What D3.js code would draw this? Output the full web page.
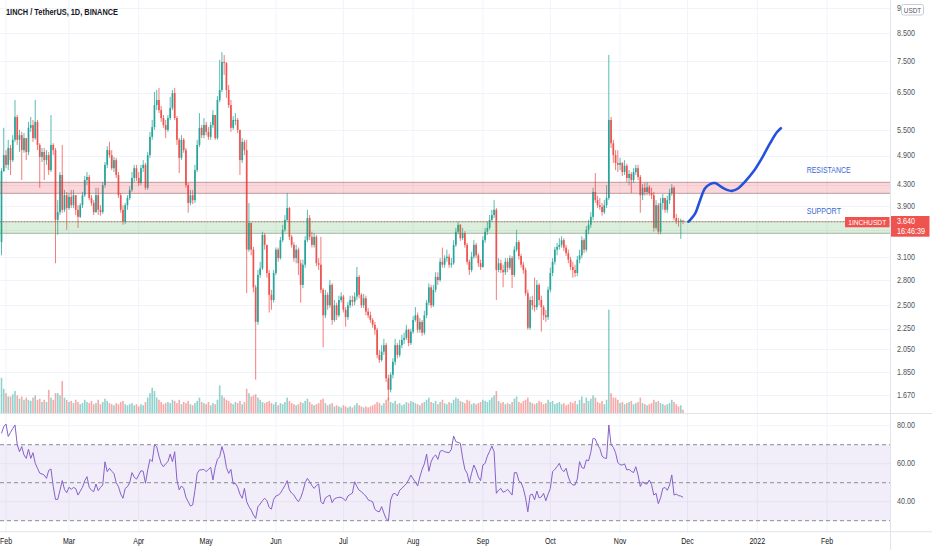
<!DOCTYPE html>
<html><head><meta charset="utf-8">
<script src="https://cdn.jsdelivr.net/npm/d3@7/dist/d3.min.js"></script>
<style>
body{margin:0;background:#fff;}
svg{display:block;font-family:"Liberation Sans",Arial,sans-serif;}
</style>
</head><body>
<svg id="c" width="932" height="550"></svg>
<script>
// ---------- DATA ----------
const title = "1INCH / TetherUS, 1D, BINANCE";
const startDate = "2021-01-30";
const firstOpen = 3.32;
// daily closes (open of each day = previous close)
const closes = [
4.57,4.91,4.70,5.07,4.80,5.26,5.83,5.26,5.37,5.02,
5.30,4.98,5.55,5.62,5.30,5.70,5.14,4.87,4.98,4.80,
4.91,4.59,5.14,5.02,3.67,3.80,4.49,3.84,4.10,3.87,
4.07,3.92,4.10,3.84,3.72,3.92,4.10,4.39,4.45,4.05,
3.96,3.80,4.10,3.84,3.80,4.29,4.70,5.02,4.91,4.63,
4.80,4.49,4.10,3.84,3.64,3.92,4.05,4.20,4.43,4.63,
4.43,4.33,4.63,4.70,4.24,4.91,5.33,5.57,6.15,6.29,
6.01,5.80,5.62,5.50,5.80,6.07,6.49,5.80,5.26,4.85,
5.26,5.02,4.29,3.96,4.10,4.01,4.59,5.14,5.55,5.37,
5.62,5.45,5.33,5.62,5.88,5.30,6.29,6.58,7.46,7.43,
6.58,6.15,5.55,5.75,5.75,5.50,4.80,5.21,5.02,3.21,
3.62,3.21,2.71,2.32,2.865,2.95,3.43,3.28,2.89,2.62,
2.56,2.89,3.21,3.09,3.35,3.51,3.67,3.87,3.40,3.28,
3.09,3.21,3.02,2.74,3.00,3.35,3.70,3.40,3.28,3.40,
3.02,3.00,2.68,2.39,2.62,2.50,2.74,2.34,2.50,2.39,
2.56,2.60,2.45,2.37,2.50,2.56,2.54,2.60,2.84,2.62,
2.50,2.58,2.43,2.39,2.34,2.29,2.24,2.00,1.955,2.03,
2.09,1.80,1.71,1.83,1.94,2.09,2.00,2.09,2.14,2.16,
2.24,2.11,2.22,2.34,2.39,2.24,2.32,2.21,2.39,2.53,
2.71,2.50,2.68,2.84,2.80,3.04,3.00,3.09,3.11,3.00,
3.02,3.28,3.48,3.59,3.38,3.46,3.28,3.04,2.93,3.11,
3.28,3.13,3.02,2.97,3.35,3.48,3.54,3.67,3.75,3.84,
2.93,3.02,2.93,2.90,3.04,2.96,3.09,2.865,3.21,3.32,
3.12,3.00,2.93,2.64,2.26,2.56,2.50,2.48,2.74,2.56,
2.48,2.39,2.37,2.68,2.89,3.04,3.21,3.25,3.28,3.35,
3.24,3.16,3.07,2.97,2.93,2.89,3.07,3.13,3.35,3.21,
3.51,3.59,3.72,4.16,4.01,3.92,3.89,3.80,3.92,4.05,
5.75,5.18,4.91,4.74,4.70,4.74,4.55,4.68,4.43,4.51,
4.39,4.55,4.63,4.45,4.10,4.24,4.16,4.25,4.14,4.10,
3.54,3.92,3.48,3.96,4.05,3.84,4.01,4.14,4.24,3.70,
3.65,3.64,3.66,3.64];
const highs = [
4.63,5.55,5.02,5.26,5.14,5.37,6.29,5.88,5.50,5.45,
5.42,5.30,5.70,5.83,5.75,6.29,5.75,5.18,5.07,5.07,
5.02,4.98,5.88,5.18,5.07,4.01,4.55,5.14,4.20,4.16,
4.14,4.20,4.20,4.10,3.92,3.96,4.16,4.47,4.55,4.49,
4.10,4.01,4.24,4.24,3.92,4.35,4.76,5.11,5.21,5.02,
4.87,4.85,4.55,4.14,3.92,3.96,4.10,4.27,4.55,4.70,
4.70,4.55,4.70,4.80,4.74,4.98,5.45,5.75,6.52,6.58,
6.64,6.12,5.88,5.75,5.88,6.38,6.58,6.64,5.85,5.30,
5.37,5.30,5.07,4.33,4.20,4.20,4.70,5.26,5.93,5.62,
5.80,5.70,5.57,5.70,6.01,5.88,6.40,7.53,7.80,7.70,
7.46,6.73,6.29,5.85,5.93,5.80,5.50,5.30,5.26,5.26,
3.96,3.62,3.25,2.74,2.93,3.04,3.48,3.46,3.28,2.93,
2.68,2.93,3.24,3.24,3.40,3.59,3.75,4.14,3.89,3.43,
3.32,3.28,3.24,3.07,3.07,3.41,3.84,3.75,3.48,3.46,
3.43,3.09,3.40,2.70,2.68,2.65,2.80,2.76,2.56,2.53,
2.61,2.65,2.62,2.48,2.54,2.61,2.61,2.65,2.97,2.865,
2.64,2.63,2.61,2.47,2.43,2.36,2.32,2.26,2.045,2.09,
2.15,2.11,1.83,1.85,1.97,2.15,2.11,2.14,2.19,2.21,
2.29,2.25,2.25,2.38,2.48,2.42,2.36,2.34,2.44,2.56,
2.76,2.74,2.74,2.90,2.90,3.09,3.24,3.13,3.21,3.15,
3.09,3.35,3.54,3.64,3.60,3.54,3.49,3.31,3.07,3.18,
3.35,3.31,3.16,3.07,3.41,3.54,3.64,3.75,3.84,4.01,
3.87,3.09,3.07,3.00,3.09,3.09,3.13,3.12,3.26,3.51,
3.35,3.15,3.04,2.96,2.68,2.60,2.61,2.83,2.80,2.76,
2.61,2.50,2.45,2.72,2.96,3.09,3.25,3.31,3.38,3.41,
3.38,3.28,3.21,3.11,3.04,3.00,3.12,3.21,3.41,3.38,
3.57,3.67,3.80,4.24,4.53,4.09,4.05,3.96,4.01,4.29,
7.70,5.83,5.26,5.02,5.02,4.85,4.76,4.80,4.72,4.59,
4.55,4.63,4.70,4.70,4.49,4.31,4.33,4.35,4.29,4.24,
4.16,4.01,3.96,4.05,4.12,4.05,4.09,4.22,4.31,4.27,
3.77,3.70,3.69,3.66];
const lows = [
3.13,4.55,4.63,4.59,4.49,4.76,5.21,5.14,4.98,4.39,
4.96,4.80,4.91,5.45,5.21,5.26,5.02,4.24,4.76,4.39,
4.70,4.49,4.55,4.91,3.02,3.43,3.75,3.79,3.80,3.51,
3.84,3.87,3.87,3.75,3.54,3.70,3.87,4.07,4.29,4.01,
3.91,3.75,3.79,3.75,3.74,3.77,4.24,4.63,4.85,4.59,
4.55,4.43,4.05,3.79,3.59,3.60,3.84,4.01,4.16,4.35,
4.37,4.27,4.29,4.55,4.20,4.20,4.85,5.26,5.50,6.01,
5.93,5.70,5.55,5.30,5.45,5.75,6.01,5.75,5.14,4.53,
4.80,4.96,4.24,3.79,3.92,3.94,3.96,4.55,5.09,5.30,
5.30,5.37,5.26,5.26,5.55,5.26,5.26,6.23,6.52,7.04,
6.35,6.07,5.45,5.50,5.62,5.42,4.49,4.74,4.91,2.64,
3.18,3.13,2.65,1.79,2.29,2.83,2.93,3.21,2.83,2.42,
2.45,2.53,2.865,3.04,3.07,3.32,3.48,3.64,3.35,3.24,
3.04,3.02,2.865,2.53,2.70,2.96,3.32,3.35,3.24,3.24,
2.98,2.93,2.64,2.07,2.36,2.45,2.47,2.29,2.32,2.34,
2.37,2.53,2.42,2.27,2.34,2.47,2.49,2.50,2.56,2.58,
2.47,2.47,2.39,2.36,2.31,2.26,2.19,1.97,1.93,1.94,
2.00,1.77,1.63,1.69,1.80,1.91,1.97,1.98,2.06,2.10,
2.14,2.08,2.09,2.20,2.32,2.21,2.21,2.18,2.19,2.36,
2.50,2.47,2.48,2.65,2.74,2.78,2.96,2.96,3.04,2.96,
2.96,3.00,3.25,3.44,3.34,3.35,3.24,3.00,2.865,2.90,
3.08,3.09,2.97,2.93,2.96,3.31,3.43,3.51,3.64,3.70,
2.56,2.90,2.89,2.71,2.865,2.90,2.93,2.70,2.84,3.18,
3.07,2.96,2.88,2.61,2.24,2.24,2.45,2.43,2.45,2.50,
2.22,2.34,2.32,2.34,2.65,2.85,3.00,3.13,3.21,3.24,
3.19,3.12,3.02,2.93,2.83,2.84,2.85,3.02,3.09,3.16,
3.18,3.44,3.54,3.67,3.96,3.87,3.84,3.74,3.77,3.87,
4.01,5.07,4.74,4.59,4.55,4.59,4.47,4.49,4.35,4.29,
4.14,4.33,4.49,4.39,3.79,4.01,4.09,4.10,4.09,4.03,
3.48,3.51,3.44,3.44,3.84,3.79,3.79,3.94,4.09,3.66,
3.60,3.56,3.37,3.60];
// daily volume, millions
const volumes = [
32,22,18,15,15,17,20,16,13,15,
12,14,12,11,14,16,12,13,10,12,
10,21,14,12,18,18,16,29,14,12,
10,11,9,12,10,8,9,12,10,9,
11,8,9,12,8,10,13,11,9,8,
7,9,8,10,11,8,7,8,9,7,
8,6,8,7,10,14,18,23,20,14,
12,10,8,9,10,9,12,11,9,12,
8,10,9,11,8,7,9,11,14,10,
9,8,10,7,9,8,12,25,16,14,
12,11,9,8,10,9,11,8,10,22,
18,15,16,17,14,12,10,9,10,11,
9,8,10,7,9,8,10,14,11,9,
8,7,8,10,9,11,13,10,8,7,
8,9,12,13,9,7,8,9,6,7,
6,5,7,6,5,6,5,7,9,7,
6,5,6,5,6,7,8,10,9,7,
9,12,14,10,9,11,8,9,7,8,
10,9,11,10,9,8,7,9,10,12,
14,10,9,11,8,10,12,9,8,10,
9,12,14,13,11,10,9,12,11,8,
9,8,9,10,12,11,10,12,14,16,
20,11,9,10,8,9,8,10,13,15,
10,9,11,12,14,10,9,8,9,11,
10,8,9,12,10,11,8,9,10,8,
9,7,8,10,9,11,8,12,15,9,
14,11,13,16,14,10,9,11,8,12,
94,18,14,14,12,9,10,8,9,10,
11,8,9,10,14,9,8,7,8,9,
12,10,11,9,8,7,8,9,12,10,
8,6,7,3];
// RSI(14)
const rsi = [
76,79.5,80.9,74.3,76.5,78.5,80.4,70,66.3,69,
64.6,62.8,67.6,62.8,65.8,60.2,57.6,55,54.6,54,
52.3,56.5,57.2,48,41.2,41.2,46,51.1,46.5,44.7,
47.6,46.5,47.5,46.9,43.5,45.5,47.6,51,53.2,47.6,
46,45.3,49.3,45.8,47.5,48.8,61,55.8,57.6,56,
54.9,50,47.9,44,41.8,47,47.9,50,55.3,53,
51.8,54.1,56.3,56,49.7,56.7,62.3,61.1,69.9,69,
64,60,58.4,60,61.1,65.1,61.1,66.3,51.4,46.2,
48.3,47,42.3,40,37.7,38.3,46,54.9,56.7,56.8,
57,55.8,57,58.1,51.4,58,62.3,63.7,69,65,
58,54.9,57,49.3,49.7,47.6,44,41.8,47,40,
37.4,35.6,33,31.2,37.4,38.8,40.5,41.8,40.5,37,
36.1,41.2,43,43.5,44.4,46.5,48.5,51.1,46.2,44.5,
43.5,41.5,40,42,45.5,50,52.3,50.5,48.5,47,
48.5,49.3,40,38.8,42,42.8,43.5,39.5,41.5,42,
42.3,42.3,41.5,40.5,43,43.8,44.5,50.5,48,46,
45.3,44,43,41,40.5,40,36,35,34.7,37.4,
34,31,30,40.9,44,44.4,43,46,47,48.3,
49.5,51.5,54,52,50.5,48.3,53,57,59.9,65.1,
56,61,63.5,64.6,62.3,66.5,67,66.3,66,65.8,
67.5,74.6,71.6,71.2,70.7,63,57,55,50,55,
59.3,56.7,53,51.1,59.3,60.2,64,66.5,69.3,66.3,
44.4,46,47,45,45.5,46.5,45,43.5,55.3,55.3,
51,50,47,42,34.7,43.5,44,41,45.6,42,
42.5,44.4,40.5,44,47,55.8,57,58.5,60.2,57,
55.8,57.6,53,50,48.8,48.8,52,61.1,58,57.5,
62,61.5,66,73.4,73,70,68,64,63,62.8,
80.4,70,68.6,65.8,60.6,59.5,59.3,59.9,56.7,57,
56,55.3,58.4,54,48,50.5,49.5,49.3,51.4,49,
43.5,44.4,39,42,47,47.5,46,48.8,54.1,43.5,
44,43.2,43,42.3];
const priceTicks = [1.67,1.85,2.05,2.25,2.5,2.8,3.1,3.5,3.9,4.3,4.9,5.5,6.5,7.5,8.5,9.5];
// visible axis labels (3.500 sits under the last-price tag; 9.500 is cut by the currency box)
const priceTickLabels = ["1.670","1.850","2.050","2.250","2.500","2.800","3.100","","3.900","4.300","4.900","5.500","6.500","7.500","8.500","9"];
const timeTickDates = ["2021-02-01","2021-03-01","2021-04-01","2021-05-01","2021-06-01","2021-07-01","2021-08-01","2021-09-01","2021-10-01","2021-11-01","2021-12-01","2022-01-01","2022-02-01"];
const timeTickLabels = ["Feb","Mar","Apr","May","Jun","Jul","Aug","Sep","Oct","Nov","Dec","2022","Feb"];
const rsiTicks = [80,60,40];
const rsiLevels = [70,50,30];
const resistanceZone = [4.135,4.345];
const supportZone = [3.455,3.64];
const projDates = ["2021-12-01T10:00","2021-12-04T10:00","2021-12-06T14:00","2021-12-08T19:00","2021-12-11T00:00","2021-12-13T07:00","2021-12-15T12:00","2021-12-18T12:00","2021-12-20T17:00","2021-12-23T14:00","2021-12-26T14:00","2021-12-30T07:00","2022-01-03T00:00","2022-01-06T17:00","2022-01-09T17:00","2022-01-11T12:00"];
const projPrices = [3.64,3.78,4.01,4.23,4.31,4.33,4.27,4.20,4.18,4.23,4.36,4.56,4.84,5.18,5.44,5.54];
const lastPrice = 3.640;
const countdown = "16:46:39";
const symbolLabel = "1INCHUSDT";
const currency = "USDT";

// ---------- CHART ----------
const svg = d3.select("#c");
const PR = 890.5;           // right edge of plot
const MAIN_B = 413, RSI_B = 531.7;
const GREEN = "#26a69a", RED = "#ef5350";
const GRID = "#f0f3fa", SEP = "#e0e3eb", TXT = "#131722";

const parseD = d3.utcParse("%Y-%m-%d");
const parseT = d3.utcParse("%Y-%m-%dT%H:%M");
const dates = closes.map((_, i) => d3.utcDay.offset(parseD(startDate), i));
const opens = closes.map((c, i) => i === 0 ? firstOpen : closes[i - 1]);

const x = d3.scaleUtc().domain([parseD("2021-02-01"), parseD("2022-02-01")]).range([6, 827]);
const y = d3.scaleLog().domain([1.67, 8.5]).range([395.05, 33]);
const yVol = d3.scaleLinear().domain([0, 100]).range([MAIN_B, MAIN_B - 110]);
const yR = d3.scaleLinear().domain([40, 80]).range([501.7, 425.7]);

const defs = svg.append("defs");
defs.append("clipPath").attr("id","cm").append("rect").attr("x",0).attr("y",0).attr("width",PR).attr("height",MAIN_B);
defs.append("clipPath").attr("id","cr").append("rect").attr("x",0).attr("y",MAIN_B).attr("width",PR).attr("height",RSI_B-MAIN_B);

function label(g, tx, ty, str, size, fill, sx, anchor, weight) {
  return g.append("text")
    .attr("transform", `translate(${tx},${ty}) scale(${sx},1)`)
    .attr("font-size", size).attr("fill", fill)
    .attr("text-anchor", anchor || "start")
    .attr("dominant-baseline", "central")
    .attr("font-weight", weight || "normal")
    .text(str);
}

// grid
const grid = svg.append("g");
const tDates = timeTickDates.map(parseD);
grid.selectAll(".vg").data(tDates).join("line")
  .attr("x1", d => x(d)).attr("x2", d => x(d)).attr("y1", 0).attr("y2", RSI_B)
  .attr("stroke", GRID).attr("stroke-width", 1);
grid.selectAll(".hg").data(priceTicks).join("line")
  .attr("x1", 0).attr("x2", PR).attr("y1", d => Math.round(y(d)) + 0.5).attr("y2", d => Math.round(y(d)) + 0.5)
  .attr("stroke", GRID);
grid.selectAll(".rg").data(rsiTicks).join("line")
  .attr("x1", 0).attr("x2", PR).attr("y1", d => yR(d)).attr("y2", d => yR(d))
  .attr("stroke", GRID);

// main pane
const main = svg.append("g").attr("clip-path", "url(#cm)");
const idx = d3.range(closes.length);
// volume
main.selectAll(".v").data(idx).join("rect")
  .attr("x", i => x(dates[i]) - 0.8).attr("width", 1.6)
  .attr("y", i => yVol(volumes[i])).attr("height", i => MAIN_B - yVol(volumes[i]))
  .attr("fill", i => closes[i] >= opens[i] ? "rgba(38,166,154,0.5)" : "rgba(239,83,80,0.5)");
// wicks
main.selectAll(".w").data(idx).join("line")
  .attr("x1", i => x(dates[i])).attr("x2", i => x(dates[i]))
  .attr("y1", i => y(highs[i])).attr("y2", i => y(lows[i]))
  .attr("stroke", i => closes[i] >= opens[i] ? GREEN : RED).attr("stroke-width", 0.9)
  .attr("stroke-opacity", 0.85);
// bodies
main.selectAll(".b").data(idx).join("rect")
  .attr("x", i => x(dates[i]) - 0.85).attr("width", 1.7)
  .attr("y", i => y(Math.max(opens[i], closes[i])))
  .attr("height", i => Math.max(1, y(Math.min(opens[i], closes[i])) - y(Math.max(opens[i], closes[i]))))
  .attr("fill", i => closes[i] >= opens[i] ? GREEN : RED);

// zones
function zone(z, fill, stroke) {
  main.append("rect").attr("x", -1).attr("width", PR + 1)
    .attr("y", y(z[1])).attr("height", y(z[0]) - y(z[1]))
    .attr("fill", fill).attr("stroke", stroke).attr("stroke-width", 1);
}
zone(resistanceZone, "rgba(242,54,69,0.2)", "rgba(140,90,95,0.55)");
zone(supportZone, "rgba(76,175,80,0.2)", "rgba(100,130,100,0.55)");

// last price line
main.append("line").attr("x1", 0).attr("x2", PR)
  .attr("y1", y(lastPrice)).attr("y2", y(lastPrice))
  .attr("stroke", RED).attr("stroke-opacity", 0.7).attr("stroke-dasharray", "1,2");

// projection
const proj = projDates.map((d, i) => ({ t: parseT(d), p: projPrices[i] }));
main.append("path").datum(proj)
  .attr("d", d3.line().x(d => x(d.t)).y(d => y(d.p)).curve(d3.curveCatmullRom.alpha(0.5)))
  .attr("fill", "none").attr("stroke", "#2452dc").attr("stroke-width", 2.6)
  .attr("stroke-linecap", "round");

// zone text
main.append("text").attr("x", 806.7).attr("y", y(4.59)).attr("dominant-baseline","central")
  .attr("font-size", 9).attr("fill", "#3a68d4").attr("textLength", 44).attr("lengthAdjust","spacingAndGlyphs").text("RESISTANCE");
main.append("text").attr("x", 806.7).attr("y", y(3.82)).attr("dominant-baseline","central")
  .attr("font-size", 9).attr("fill", "#3a68d4").attr("textLength", 34.3).attr("lengthAdjust","spacingAndGlyphs").text("SUPPORT");

// RSI pane
const rp = svg.append("g").attr("clip-path", "url(#cr)");
rp.append("rect").attr("x", 0).attr("width", PR).attr("y", yR(70)).attr("height", yR(30) - yR(70))
  .attr("fill", "rgba(126,87,194,0.1)");
rp.selectAll(".lv").data(rsiLevels).join("line")
  .attr("x1", 0).attr("x2", PR).attr("y1", d => yR(d)).attr("y2", d => yR(d))
  .attr("stroke", "#8a8d96").attr("stroke-dasharray", "4,3").attr("stroke-width", 1);
rp.append("path").datum(idx)
  .attr("d", d3.line().x(i => x(dates[i])).y(i => yR(rsi[i])))
  .attr("fill", "none").attr("stroke", "#8661c8").attr("stroke-width", 1);

// separators
svg.append("line").attr("x1", 0).attr("x2", 932).attr("y1", MAIN_B + 0.5).attr("y2", MAIN_B + 0.5).attr("stroke", SEP);
svg.append("line").attr("x1", 0).attr("x2", 932).attr("y1", RSI_B).attr("y2", RSI_B).attr("stroke", SEP);
svg.append("line").attr("x1", PR).attr("x2", PR).attr("y1", 0).attr("y2", 550).attr("stroke", SEP);

// axes text
const ax = svg.append("g");
priceTicks.forEach((p, i) => { if (priceTickLabels[i]) label(ax, 897, y(p), priceTickLabels[i], 9, "#50535e", 0.8); });
rsiTicks.forEach(v => label(ax, 897, yR(v), d3.format(".2f")(v), 9, "#50535e", 0.8));
tDates.forEach((d, i) => label(ax, x(d), 541, timeTickLabels[i], 9, TXT, 0.78, "middle"));

// currency box
ax.append("rect").attr("x", 901.5).attr("y", 4.5).attr("width", 22).attr("height", 10.5).attr("rx", 2)
  .attr("fill", "#fff").attr("stroke", "#c9ccd4");
label(ax, 912.5, 9.9, currency, 7.5, "#50535e", 0.85, "middle");

// last price labels
ax.append("rect").attr("x", PR + 0.5).attr("y", 216).attr("width", 38.5).attr("height", 20.7).attr("fill", RED);
label(ax, 897, 221.5, d3.format(".3f")(lastPrice), 9, "#fff", 0.8);
label(ax, 897, 231.3, countdown, 9, "#fff", 0.8);
ax.append("rect").attr("x", 845).attr("y", 217).attr("width", 44.5).attr("height", 10.3).attr("fill", RED);
ax.append("text").attr("x", 867.2).attr("y", 222.2).attr("text-anchor","middle").attr("dominant-baseline","central")
  .attr("font-size", 8).attr("fill", "#fff").attr("textLength", 38).attr("lengthAdjust","spacingAndGlyphs").text(symbolLabel);

// title
svg.append("text").attr("x", 6).attr("y", 11.5).attr("dominant-baseline","central")
  .attr("font-size", 8.8).attr("font-weight", 700).attr("fill", TXT)
  .attr("textLength", 112).attr("lengthAdjust","spacingAndGlyphs").text(title);
</script>
</body></html>
